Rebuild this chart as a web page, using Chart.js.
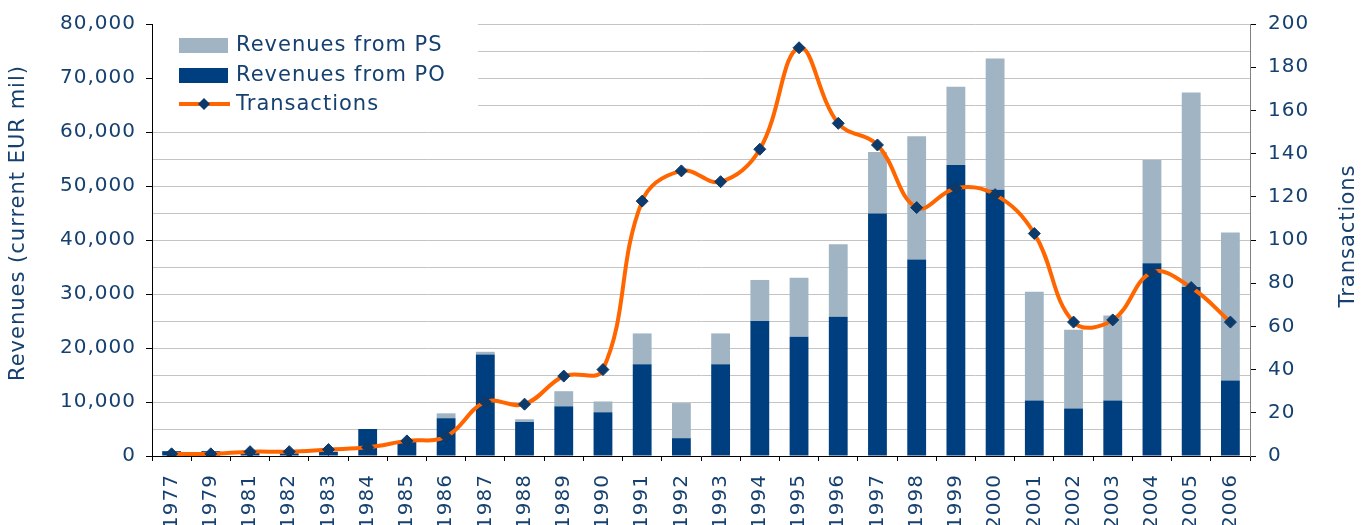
<!DOCTYPE html>
<html>
<head>
<meta charset="utf-8">
<script src="https://cdn.jsdelivr.net/npm/chart.js@4/dist/chart.umd.min.js"></script>
<style>
  html, body { margin: 0; padding: 0; background: #fff; }
  #wrap { width: 1372px; height: 525px; position: relative; }
</style>
</head>
<body>
<div id="wrap"><canvas id="c"></canvas></div>
<script>
/* ─── DATA ─── */
const years = ['1977', '1979', '1981', '1982', '1983', '1984', '1985', '1986', '1987', '1988',
  '1989', '1990', '1991', '1992', '1993', '1994', '1995', '1996', '1997', '1998',
  '1999', '2000', '2001', '2002', '2003', '2004', '2005', '2006'];
const revPO = [900, 900, 600, 500, 800, 5000, 2800, 7000, 18800, 6300,
  9200, 8100, 17000, 3300, 17000, 25000, 22100, 25800, 44900, 36400,
  53900, 49300, 10300, 8800, 10300, 35700, 31300, 14000];
const revPS = [0, 0, 0, 0, 0, 0, 0, 900, 500, 500,
  2800, 2000, 5700, 6500, 5700, 7600, 10900, 13400, 11400, 22800,
  14500, 24300, 20100, 14600, 15700, 19100, 36000, 27400];
const transactions = [1, 1, 2, 2, 3, 4, 7, 9, 25, 24,
  37, 40, 118, 132, 127, 142, 189, 154, 144, 115,
  124, 121, 103, 62, 63, 85, 78, 62];

/* ─── STYLE ─── */
const FONT = "'DejaVu Sans', Verdana, sans-serif";
const TXT = '#15406F';
const C_PS = '#A0B4C3';
const C_PO = '#003F7F';
const C_LINE = '#FF6600';
const C_MARK = '#0B3A6B';

// boxed legend + axis titles drawn straight on the canvas
const extras = {
  id: 'extras',
  beforeLayout(chart) { chart.ctx.letterSpacing = '1px'; },
  beforeDraw(chart) { chart.ctx.letterSpacing = '1px'; },
  beforeDatasetsDraw(chart) {
    const ctx = chart.ctx;
    ctx.save();
    ctx.fillStyle = '#fff';
    ctx.fillRect(chart.chartArea.left + 1, 23, 325, 104);

    ctx.fillStyle = C_PS;
    ctx.fillRect(179, 38, 49, 15);
    ctx.fillStyle = C_PO;
    ctx.fillRect(179, 68, 49, 15);

    ctx.strokeStyle = C_LINE;
    ctx.lineWidth = 4;
    ctx.beginPath(); ctx.moveTo(179, 104); ctx.lineTo(230, 104); ctx.stroke();
    ctx.fillStyle = C_MARK;
    ctx.beginPath();
    ctx.moveTo(204, 98); ctx.lineTo(210, 104); ctx.lineTo(204, 110); ctx.lineTo(198, 104);
    ctx.closePath(); ctx.fill();

    ctx.font = '21px ' + FONT;
    ctx.fillStyle = TXT;
    ctx.textBaseline = 'middle';
    ctx.textAlign = 'left';
    ctx.fillText('Revenues from PS', 236, 46);
    ctx.fillText('Revenues from PO', 236, 76);
    ctx.fillText('Transactions', 236, 105);
    ctx.restore();
  },
  afterDraw(chart) {
    const ctx = chart.ctx;
    ctx.save();
    ctx.font = '21px ' + FONT;
    ctx.fillStyle = TXT;
    ctx.textAlign = 'center';
    ctx.textBaseline = 'middle';
    ctx.translate(19, 223); ctx.rotate(-Math.PI / 2);
    ctx.fillText('Revenues (current EUR mil)', 0, 0);
    ctx.restore();
    ctx.save();
    ctx.font = '21px ' + FONT;
    ctx.fillStyle = TXT;
    ctx.textAlign = 'center';
    ctx.textBaseline = 'middle';
    ctx.translate(1349, 236); ctx.rotate(-Math.PI / 2);
    ctx.fillText('Transactions', 0, 0);
    ctx.restore();
  }
};

const ctx = document.getElementById('c').getContext('2d');
new Chart(ctx, {
  type: 'bar',
  data: {
    labels: years,
    datasets: [
      { type: 'line', label: 'Transactions', data: transactions, yAxisID: 'y2', order: 0,
        borderColor: C_LINE, borderWidth: 4, tension: 0.4,
        pointStyle: 'rectRot', pointRadius: 6, pointBackgroundColor: C_MARK, pointBorderColor: C_MARK,
        pointBorderWidth: 1 },
      { label: 'Revenues from PO', data: revPO, backgroundColor: C_PO, yAxisID: 'y', order: 1,
        barPercentage: 0.48, categoryPercentage: 1 },
      { label: 'Revenues from PS', data: revPS, backgroundColor: C_PS, yAxisID: 'y', order: 1,
        barPercentage: 0.48, categoryPercentage: 1 }
    ]
  },
  options: {
    responsive: true, maintainAspectRatio: false, animation: false,
    layout: { padding: { top: 21, left: 0, right: 0, bottom: 0 } },
    plugins: { legend: { display: false }, tooltip: { enabled: false } },
    scales: {
      x: {
        stacked: true,
        afterFit: s => { s.height = 69; },
        grid: { offset: true, drawOnChartArea: false, tickLength: 5, tickColor: '#000' },
        border: { color: '#000', width: 1 },
        ticks: { color: TXT, font: { family: FONT, size: 20 }, minRotation: 90, maxRotation: 90,
          autoSkip: false, padding: 13 }
      },
      y: {
        stacked: true, position: 'left', min: 0, max: 80000,
        afterFit: s => { s.width = 152; },
        grid: { color: '#C4C4C4', lineWidth: 1, tickLength: 6,
          tickColor: c => (c.tick && c.tick.value % 10000 === 0) ? '#000' : 'rgba(0,0,0,0)' },
        border: { color: '#000', width: 1 },
        ticks: { stepSize: 5000, color: TXT, font: { family: FONT, size: 20 }, padding: 10,
          callback: v => v % 10000 === 0 ? v.toLocaleString('en-US') : '' }
      },
      y2: {
        position: 'right', min: 0, max: 200,
        afterFit: s => { s.width = 122; },
        grid: { drawOnChartArea: false, tickLength: 6, tickColor: '#000' },
        border: { color: '#808080', width: 1 },
        ticks: { stepSize: 20, color: TXT, font: { family: FONT, size: 20 }, padding: 12 }
      }
    }
  },
  plugins: [extras]
});
</script>
</body>
</html>
